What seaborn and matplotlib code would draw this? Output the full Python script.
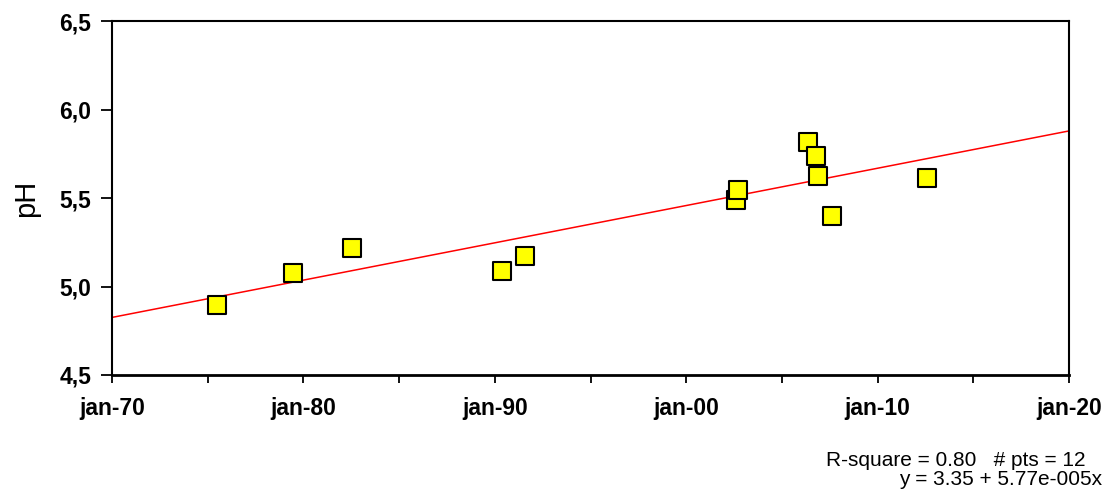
import pandas as pd
import numpy as np
import matplotlib
matplotlib.use('Agg')
import matplotlib.pyplot as plt
import seaborn as sns

# sample dates and measured pH
sample_dates = ['1975-06-28', '1979-06-17', '1982-07-15', '1990-05-26',
                '1991-08-08', '2002-08-08', '2002-09-13', '2006-05-12',
                '2006-10-12', '2006-11-25', '2007-08-08', '2012-08-08']
ph_values = [4.895, 5.075, 5.220, 5.088, 5.172, 5.489, 5.545, 5.816,
             5.737, 5.624, 5.398, 5.613]

# trend line from the stated fit (x = Excel date serial)
fit_intercept = 3.35
fit_slope = 5.77e-005
r_square = 0.80

x_tick_dates = ['1970-01-01', '1980-01-01', '1990-01-01', '2000-01-01',
                '2010-01-01', '2020-01-01']
x_tick_labels = ['jan-70', 'jan-80', 'jan-90', 'jan-00', 'jan-10', 'jan-20']
minor_tick_dates = ['1975-01-01', '1985-01-01', '1995-01-01', '2005-01-01',
                    '2015-01-01']
y_ticks = [4.5, 5.0, 5.5, 6.0, 6.5]
y_tick_labels = ['4,5', '5,0', '5,5', '6,0', '6,5']

df = pd.DataFrame({'date': pd.to_datetime(sample_dates), 'ph': ph_values})

excel_epoch = pd.Timestamp('1899-12-30')
line_dates = pd.date_range('1970-01-01', '2020-01-01', freq='D')
serial = (line_dates - excel_epoch).days.values
df_fit = pd.DataFrame({'date': line_dates,
                       'ph': fit_intercept + fit_slope * serial})

sns.set_style('ticks', rc={'text.color': 'black', 'axes.labelcolor': 'black',
                           'xtick.color': 'black', 'ytick.color': 'black',
                           'axes.edgecolor': 'black'})
plt.rcParams['font.family'] = ['Liberation Sans', 'DejaVu Sans']

fig = plt.figure(figsize=(11.09, 4.9), dpi=100)
ax = fig.add_axes([0.101, 0.2347, 0.863, 0.7224])

sns.lineplot(data=df_fit, x='date', y='ph', color='#ff0000',
             linewidth=1.1, ax=ax, zorder=2)
sns.scatterplot(data=df, x='date', y='ph', marker='s', s=175,
                color='#ffff00', edgecolor='black', linewidth=1.5,
                ax=ax, zorder=3)

ax.set_xlim(pd.Timestamp('1970-01-01'), pd.Timestamp('2020-01-01'))
ax.set_ylim(4.5, 6.5)

ax.set_xticks(pd.to_datetime(x_tick_dates))
ax.set_xticklabels(x_tick_labels, fontsize=16.5, fontweight='bold')
ax.set_xticks(pd.to_datetime(minor_tick_dates), minor=True)
ax.set_yticks(y_ticks)
ax.set_yticklabels(y_tick_labels, fontsize=16.5, fontweight='bold')
ax.tick_params(axis='both', which='both', direction='out', width=1.3,
               color='black', labelcolor='black')
ax.tick_params(axis='x', which='both', length=6, pad=10)
ax.tick_params(axis='y', length=8, pad=7)

ax.set_xlabel('')
ax.set_ylabel('pH', fontsize=21, labelpad=14)

for side in ['left', 'right', 'top', 'bottom']:
    ax.spines[side].set_visible(True)
    ax.spines[side].set_color('black')
    ax.spines[side].set_linewidth(1.5)
ax.spines['bottom'].set_linewidth(2)

fig.text(1086 / 1109, 1 - 466 / 490,
         f'R-square = {r_square:.2f}   # pts = {len(ph_values)}',
         ha='right', va='baseline', fontsize=15)
fig.text(1102 / 1109, 1 - 485 / 490,
         f'y = {fit_intercept:.2f} + 5.77e-005x',
         ha='right', va='baseline', fontsize=15)

fig.savefig('out.png', dpi=100)
